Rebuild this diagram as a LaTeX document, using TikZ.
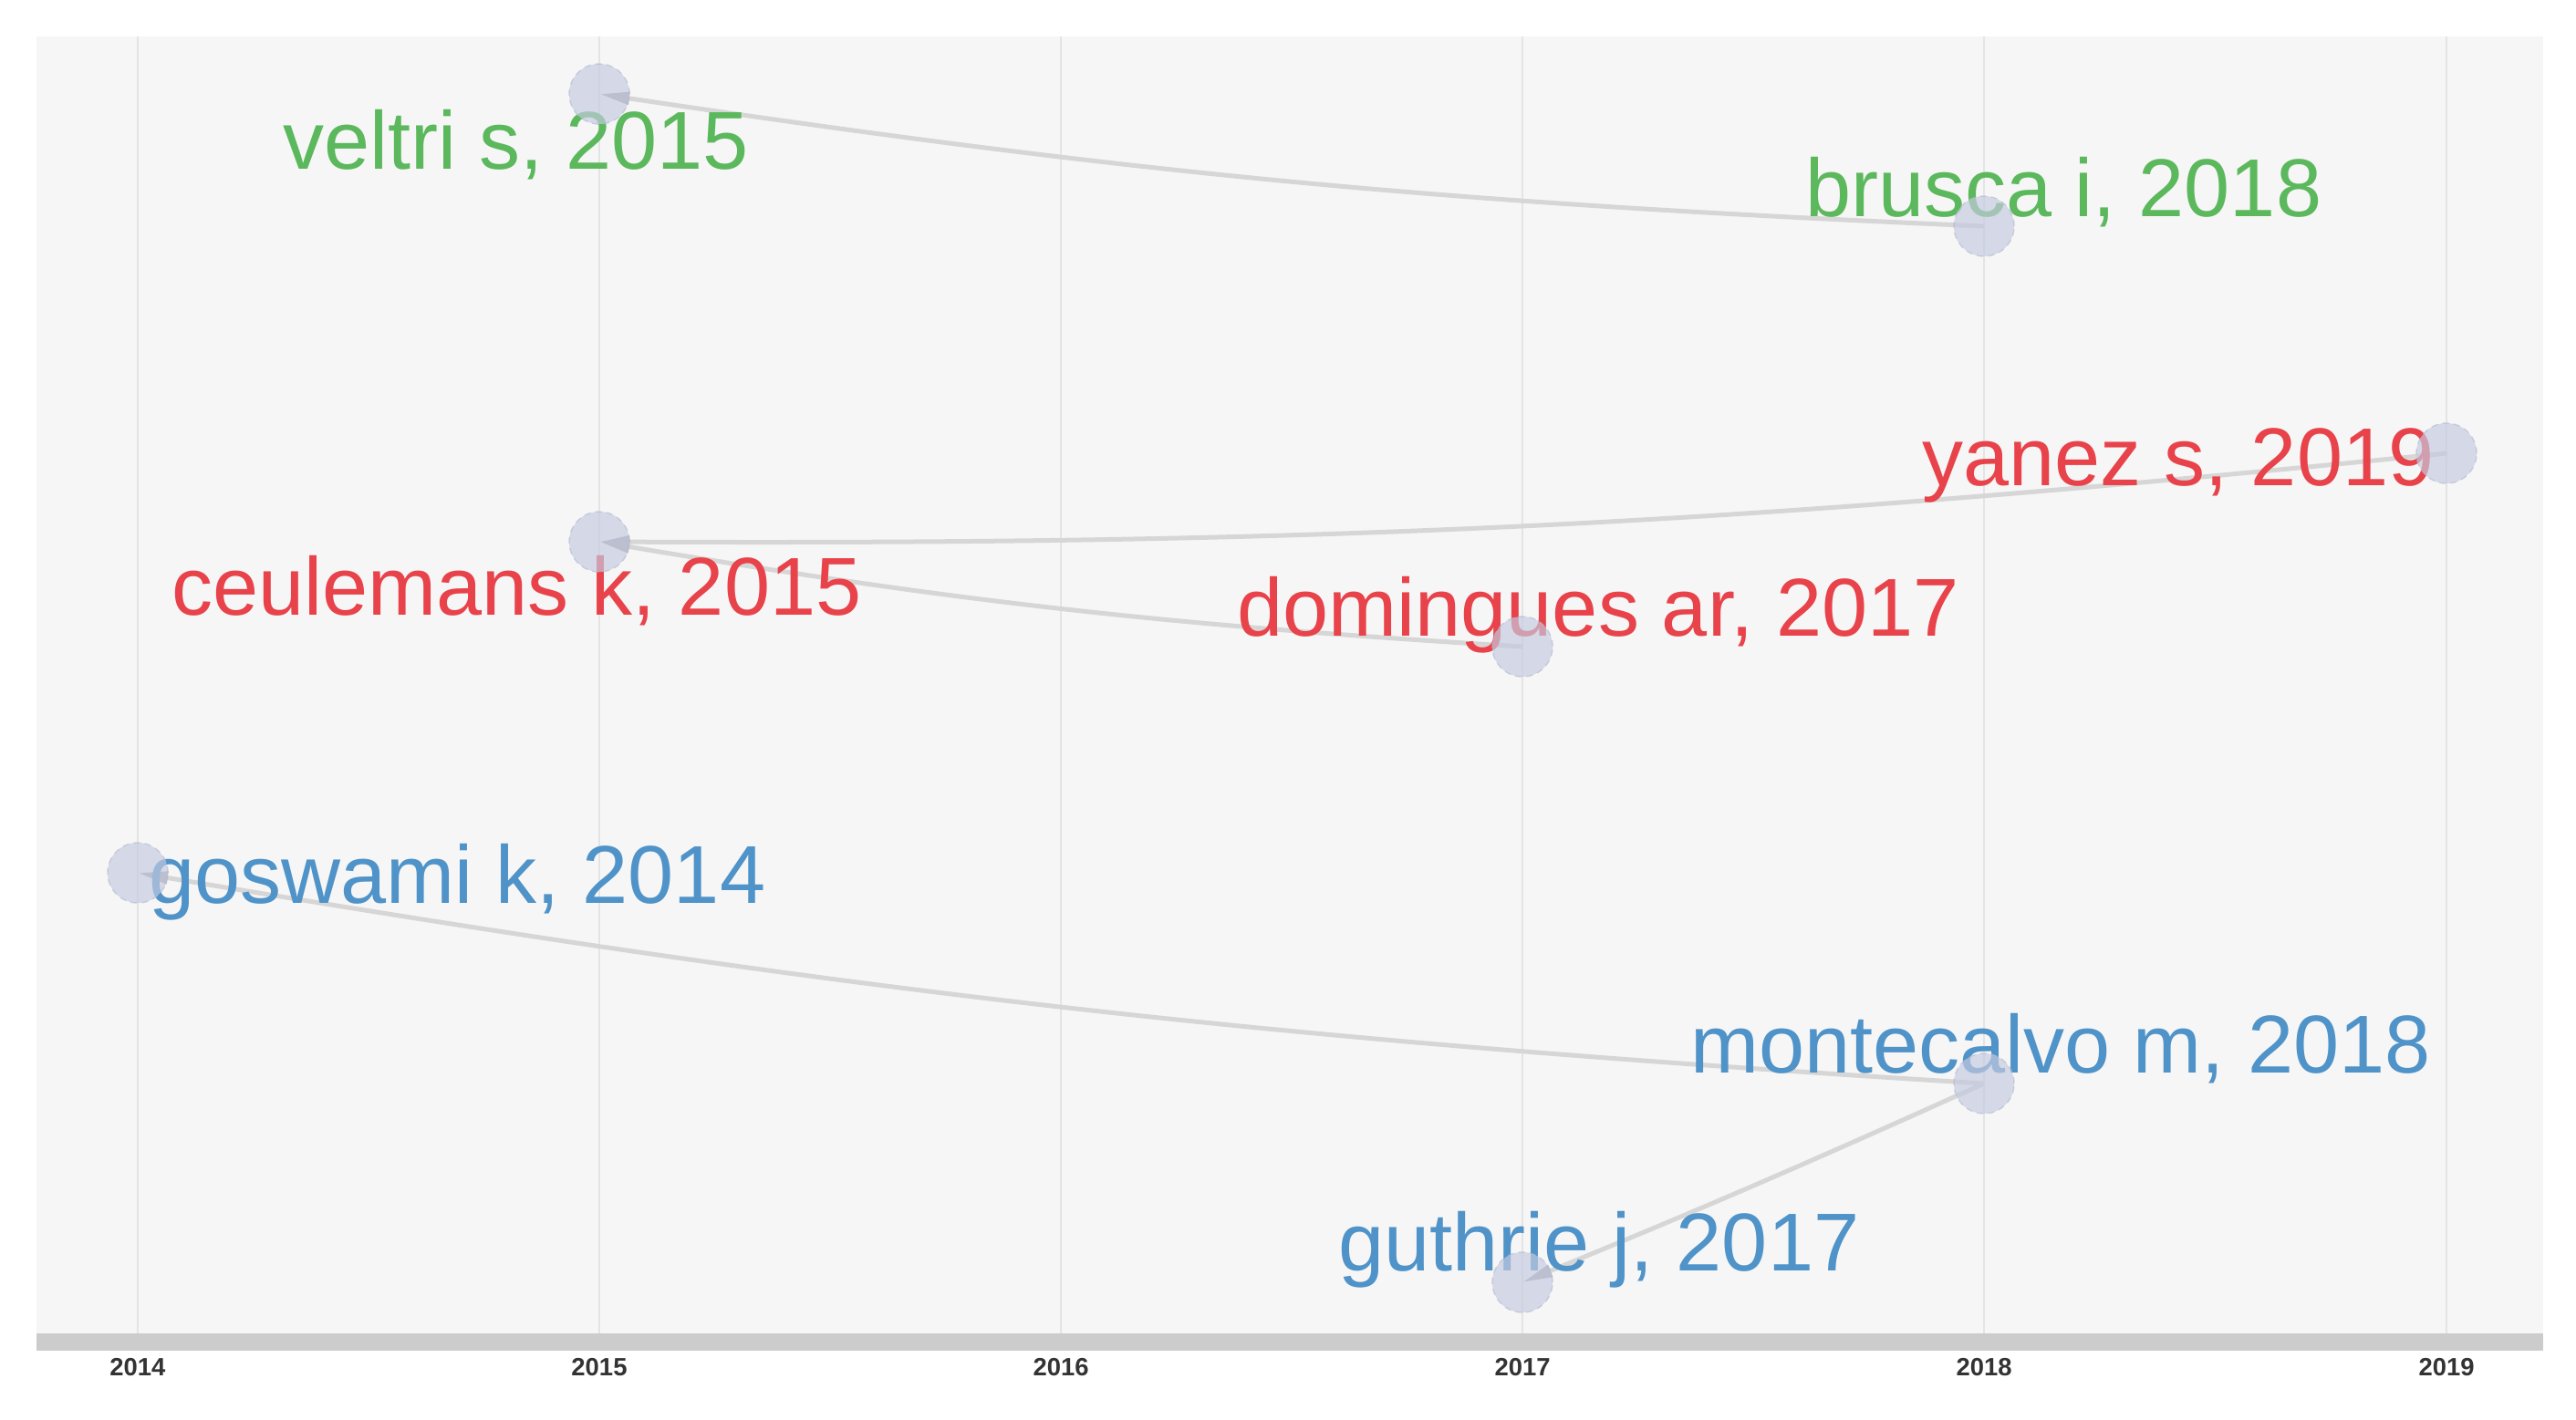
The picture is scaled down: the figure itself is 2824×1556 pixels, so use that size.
\documentclass[tikz,border=0pt]{standalone}
\usepackage{fontspec}
\setmainfont{Liberation Sans}
\usetikzlibrary{arrows.meta}
\pgfdeclarelayer{panel}
\pgfdeclarelayer{edges}
\pgfdeclarelayer{labels}
\pgfsetlayers{panel,edges,labels,main}
\definecolor{panelbg}{HTML}{F6F6F6}
\definecolor{barc}{HTML}{CCCCCC}
\definecolor{gridc}{HTML}{E4E4E4}
\definecolor{nodefill}{HTML}{C5CBE0}
\definecolor{nodeborder}{HTML}{B4BBD0}
\definecolor{edgegray}{HTML}{D6D6D6}
\definecolor{arrowgray}{HTML}{A8A8AE}
\definecolor{lgreen}{HTML}{5CB85C}
\definecolor{lred}{HTML}{E8424A}
\definecolor{lblue}{HTML}{4F93C9}
\definecolor{axistext}{HTML}{333333}
\tikzset{
  pub/.style={circle, minimum size=0.66cm, inner sep=0pt, fill=nodefill, fill opacity=0.68,
    draw=nodeborder, draw opacity=0.6, dash pattern=on 2pt off 1.5pt, line width=0.4pt},
  lab/.style={font=\fontsize{25.6pt}{30pt}\selectfont, inner sep=0pt, anchor=base west},
  labe/.style={lab, anchor=base east},
  yearlab/.style={font=\fontsize{7.8pt}{9pt}\selectfont\bfseries, text=axistext, inner sep=0pt, anchor=center},
  cite/.style={draw=edgegray, line width=0.05cm,
    -{Triangle[length=0.33cm,width=0.13cm,color=arrowgray]}, bend left=3},
  gridline/.style={draw=gridc, line width=0.02cm}
}
\begin{document}
\begin{tikzpicture}[x=0.01cm,y=-0.01cm]
\useasboundingbox (0,0) rectangle (2824,1556);
\begin{pgfonlayer}{panel}
  \fill[panelbg] (40,40) rectangle (2788,1462);
  \foreach \xx in {151,657,1163,1669,2175,2682} {
    \draw[gridline] (\xx,40) -- (\xx,1462);
  }
  \fill[barc] (40,1462) rectangle (2788,1481);
\end{pgfonlayer}
% year labels
\node[yearlab] (y2014) at (151,1499) {2014};
\node[yearlab] (y2015) at (657,1499) {2015};
\node[yearlab] (y2016) at (1163,1499) {2016};
\node[yearlab] (y2017) at (1669,1499) {2017};
\node[yearlab] (y2018) at (2175,1499) {2018};
\node[yearlab] (y2019) at (2682,1499) {2019};
% publication circles
\node[pub] (veltri) at (657,103) {};
\node[pub] (brusca) at (2175,248) {};
\node[pub] (yanez) at (2682,497) {};
\node[pub] (ceulemans) at (657,594) {};
\node[pub] (domingues) at (1669,709) {};
\node[pub] (goswami) at (151,957) {};
\node[pub] (montecalvo) at (2175,1188) {};
\node[pub] (guthrie) at (1669,1406) {};
% labels
\begin{pgfonlayer}{labels}
  \node[lab, text=lgreen] (lveltri) at (310,185) {veltri s, 2015};
  \node[lab, text=lgreen] (lbrusca) at (1979,237) {brusca i, 2018};
  \node[labe, text=lred] (lyanez) at (2669,532) {yanez s, 2019};
  \node[lab, text=lred] (lceulemans) at (188,674) {ceulemans k, 2015};
  \node[lab, text=lred] (ldomingues) at (1356,697) {domingues ar, 2017};
  \node[lab, text=lblue] (lgoswami) at (163,990) {goswami k, 2014};
  \node[lab, text=lblue] (lmontecalvo) at (1853,1176) {montecalvo m, 2018};
  \node[lab, text=lblue] (lguthrie) at (1467,1393) {guthrie j, 2017};
\end{pgfonlayer}
% citation links
\begin{pgfonlayer}{edges}
  \draw[cite] (brusca.center) to (veltri.center);
  \draw[cite] (yanez.center) to (ceulemans.center);
  \draw[cite] (domingues.center) to (ceulemans.center);
  \draw[cite] (montecalvo.center) to (goswami.center);
  \draw[cite, bend left=1] (montecalvo.center) to (guthrie.center);
\end{pgfonlayer}
\end{tikzpicture}
\end{document}
